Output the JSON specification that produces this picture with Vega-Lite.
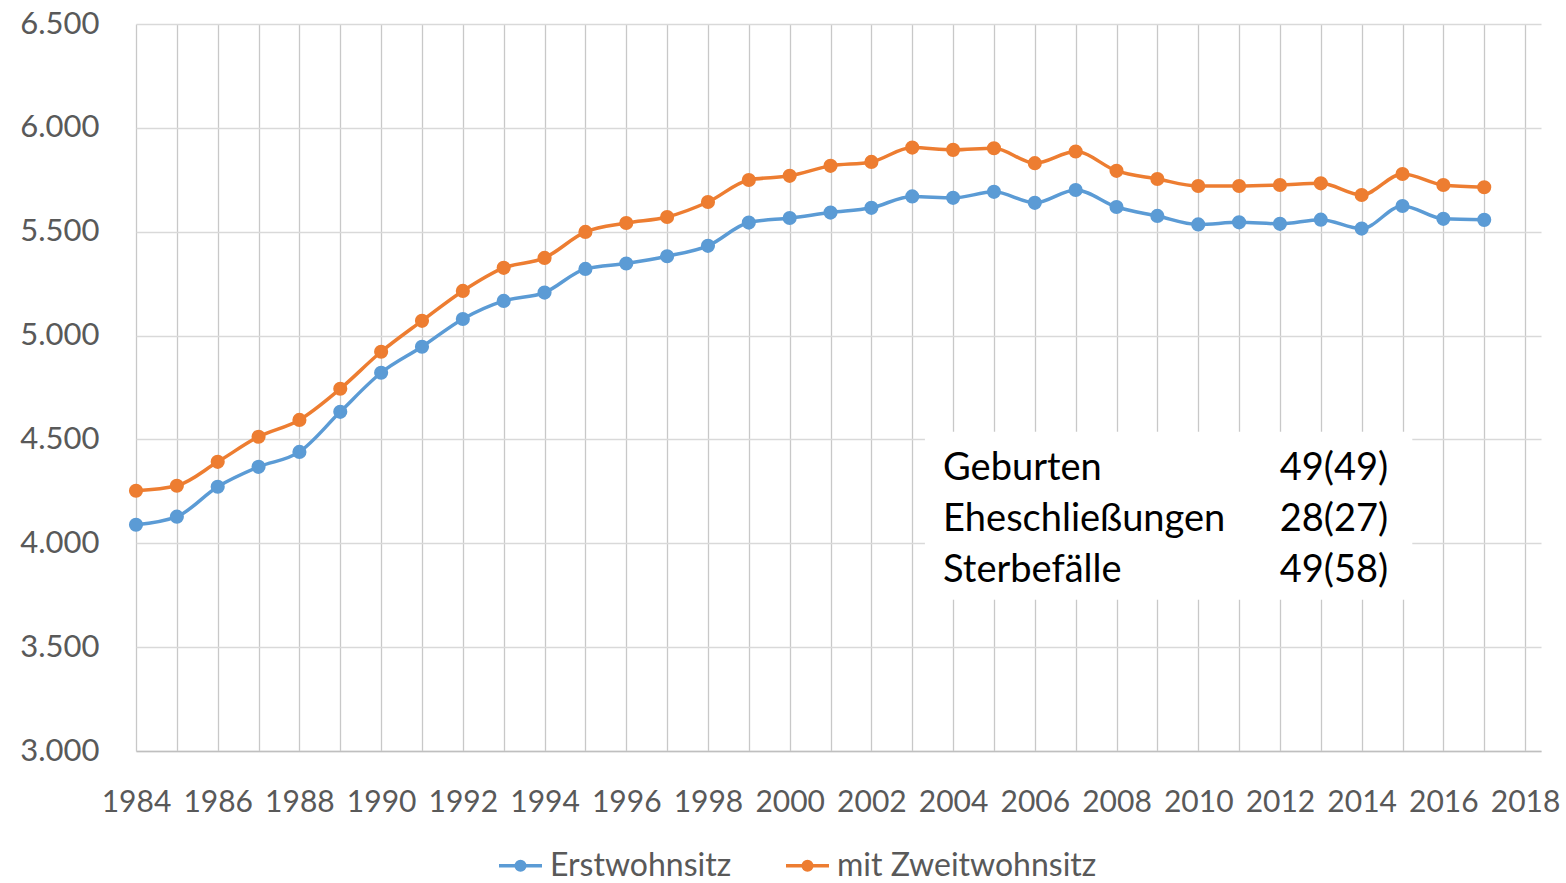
{
  "$schema": "https://vega.github.io/schema/vega-lite/v6.json",
  "width": 1405,
  "height": 727,
  "autosize": {"type": "none"},
  "padding": {"left": 136, "top": 24, "right": 25, "bottom": 132},
  "config": {"view": {"stroke": null}, "font": "Lato"},
  "data": {
    "values": [
      {"Jahr": 1984, "Serie": "Erstwohnsitz", "Einwohner": 4089},
      {"Jahr": 1985, "Serie": "Erstwohnsitz", "Einwohner": 4128},
      {"Jahr": 1986, "Serie": "Erstwohnsitz", "Einwohner": 4272},
      {"Jahr": 1987, "Serie": "Erstwohnsitz", "Einwohner": 4368},
      {"Jahr": 1988, "Serie": "Erstwohnsitz", "Einwohner": 4440},
      {"Jahr": 1989, "Serie": "Erstwohnsitz", "Einwohner": 4633},
      {"Jahr": 1990, "Serie": "Erstwohnsitz", "Einwohner": 4821},
      {"Jahr": 1991, "Serie": "Erstwohnsitz", "Einwohner": 4946},
      {"Jahr": 1992, "Serie": "Erstwohnsitz", "Einwohner": 5080},
      {"Jahr": 1993, "Serie": "Erstwohnsitz", "Einwohner": 5167},
      {"Jahr": 1994, "Serie": "Erstwohnsitz", "Einwohner": 5207},
      {"Jahr": 1995, "Serie": "Erstwohnsitz", "Einwohner": 5321},
      {"Jahr": 1996, "Serie": "Erstwohnsitz", "Einwohner": 5347},
      {"Jahr": 1997, "Serie": "Erstwohnsitz", "Einwohner": 5382},
      {"Jahr": 1998, "Serie": "Erstwohnsitz", "Einwohner": 5432},
      {"Jahr": 1999, "Serie": "Erstwohnsitz", "Einwohner": 5544},
      {"Jahr": 2000, "Serie": "Erstwohnsitz", "Einwohner": 5566},
      {"Jahr": 2001, "Serie": "Erstwohnsitz", "Einwohner": 5592},
      {"Jahr": 2002, "Serie": "Erstwohnsitz", "Einwohner": 5615},
      {"Jahr": 2003, "Serie": "Erstwohnsitz", "Einwohner": 5670},
      {"Jahr": 2004, "Serie": "Erstwohnsitz", "Einwohner": 5663},
      {"Jahr": 2005, "Serie": "Erstwohnsitz", "Einwohner": 5692},
      {"Jahr": 2006, "Serie": "Erstwohnsitz", "Einwohner": 5639},
      {"Jahr": 2007, "Serie": "Erstwohnsitz", "Einwohner": 5701},
      {"Jahr": 2008, "Serie": "Erstwohnsitz", "Einwohner": 5619},
      {"Jahr": 2009, "Serie": "Erstwohnsitz", "Einwohner": 5576},
      {"Jahr": 2010, "Serie": "Erstwohnsitz", "Einwohner": 5535},
      {"Jahr": 2011, "Serie": "Erstwohnsitz", "Einwohner": 5545},
      {"Jahr": 2012, "Serie": "Erstwohnsitz", "Einwohner": 5538},
      {"Jahr": 2013, "Serie": "Erstwohnsitz", "Einwohner": 5558},
      {"Jahr": 2014, "Serie": "Erstwohnsitz", "Einwohner": 5515},
      {"Jahr": 2015, "Serie": "Erstwohnsitz", "Einwohner": 5624},
      {"Jahr": 2016, "Serie": "Erstwohnsitz", "Einwohner": 5562},
      {"Jahr": 2017, "Serie": "Erstwohnsitz", "Einwohner": 5557},
      {"Jahr": 1984, "Serie": "mit Zweitwohnsitz", "Einwohner": 4253},
      {"Jahr": 1985, "Serie": "mit Zweitwohnsitz", "Einwohner": 4277},
      {"Jahr": 1986, "Serie": "mit Zweitwohnsitz", "Einwohner": 4392},
      {"Jahr": 1987, "Serie": "mit Zweitwohnsitz", "Einwohner": 4513},
      {"Jahr": 1988, "Serie": "mit Zweitwohnsitz", "Einwohner": 4594},
      {"Jahr": 1989, "Serie": "mit Zweitwohnsitz", "Einwohner": 4744},
      {"Jahr": 1990, "Serie": "mit Zweitwohnsitz", "Einwohner": 4922},
      {"Jahr": 1991, "Serie": "mit Zweitwohnsitz", "Einwohner": 5071},
      {"Jahr": 1992, "Serie": "mit Zweitwohnsitz", "Einwohner": 5215},
      {"Jahr": 1993, "Serie": "mit Zweitwohnsitz", "Einwohner": 5326},
      {"Jahr": 1994, "Serie": "mit Zweitwohnsitz", "Einwohner": 5374},
      {"Jahr": 1995, "Serie": "mit Zweitwohnsitz", "Einwohner": 5499},
      {"Jahr": 1996, "Serie": "mit Zweitwohnsitz", "Einwohner": 5542},
      {"Jahr": 1997, "Serie": "mit Zweitwohnsitz", "Einwohner": 5571},
      {"Jahr": 1998, "Serie": "mit Zweitwohnsitz", "Einwohner": 5643},
      {"Jahr": 1999, "Serie": "mit Zweitwohnsitz", "Einwohner": 5749},
      {"Jahr": 2000, "Serie": "mit Zweitwohnsitz", "Einwohner": 5769},
      {"Jahr": 2001, "Serie": "mit Zweitwohnsitz", "Einwohner": 5817},
      {"Jahr": 2002, "Serie": "mit Zweitwohnsitz", "Einwohner": 5836},
      {"Jahr": 2003, "Serie": "mit Zweitwohnsitz", "Einwohner": 5905},
      {"Jahr": 2004, "Serie": "mit Zweitwohnsitz", "Einwohner": 5894},
      {"Jahr": 2005, "Serie": "mit Zweitwohnsitz", "Einwohner": 5902},
      {"Jahr": 2006, "Serie": "mit Zweitwohnsitz", "Einwohner": 5830},
      {"Jahr": 2007, "Serie": "mit Zweitwohnsitz", "Einwohner": 5886},
      {"Jahr": 2008, "Serie": "mit Zweitwohnsitz", "Einwohner": 5793},
      {"Jahr": 2009, "Serie": "mit Zweitwohnsitz", "Einwohner": 5754},
      {"Jahr": 2010, "Serie": "mit Zweitwohnsitz", "Einwohner": 5720},
      {"Jahr": 2011, "Serie": "mit Zweitwohnsitz", "Einwohner": 5720},
      {"Jahr": 2012, "Serie": "mit Zweitwohnsitz", "Einwohner": 5725},
      {"Jahr": 2013, "Serie": "mit Zweitwohnsitz", "Einwohner": 5733},
      {"Jahr": 2014, "Serie": "mit Zweitwohnsitz", "Einwohner": 5677},
      {"Jahr": 2015, "Serie": "mit Zweitwohnsitz", "Einwohner": 5778},
      {"Jahr": 2016, "Serie": "mit Zweitwohnsitz", "Einwohner": 5725},
      {"Jahr": 2017, "Serie": "mit Zweitwohnsitz", "Einwohner": 5714}
    ]
  },
  "layer": [
    {
      "mark": {"type": "line", "strokeWidth": 3.5, "interpolate": "monotone", "point": {"filled": true, "size": 200, "opacity": 1}},
      "encoding": {
        "x": {
          "field": "Jahr", "type": "quantitative",
          "scale": {"domain": [1984, 2018.39], "nice": false, "zero": false},
          "axis": {
            "title": null,
            "values": [1984, 1985, 1986, 1987, 1988, 1989, 1990, 1991, 1992, 1993, 1994, 1995, 1996, 1997, 1998, 1999, 2000, 2001, 2002, 2003, 2004, 2005, 2006, 2007, 2008, 2009, 2010, 2011, 2012, 2013, 2014, 2015, 2016, 2017, 2018],
            "format": "d",
            "labelExpr": "datum.value % 2 == 0 ? datum.label : ''",
            "grid": true, "gridColor": "#c8c8c8", "gridWidth": 1.3,
            "ticks": false, "tickSize": 0,
            "domainColor": "#bfbfbf", "domainWidth": 1.3,
            "labelFont": "Lato", "labelFontSize": 30, "labelColor": "#595959",
            "labelPadding": 36, "labelFlush": false, "labelOverlap": false
          }
        },
        "y": {
          "field": "Einwohner", "type": "quantitative",
          "scale": {"domain": [3000, 6500], "nice": false, "zero": false},
          "axis": {
            "title": null,
            "values": [3000, 3500, 4000, 4500, 5000, 5500, 6000, 6500],
            "labelExpr": "replace(format(datum.value, ','), ',', '.')",
            "domain": false, "ticks": false, "tickSize": 0,
            "grid": true, "gridColor": "#d9d9d9", "gridWidth": 1.3,
            "labelFont": "Lato", "labelFontSize": 31, "labelColor": "#595959",
            "labelPadding": 37
          }
        },
        "color": {
          "field": "Serie", "type": "nominal",
          "scale": {"domain": ["Erstwohnsitz", "mit Zweitwohnsitz"], "range": ["#5B9BD5", "#ED7D31"]},
          "legend": {
            "title": null, "orient": "none", "direction": "horizontal",
            "legendX": 361, "legendY": 818, "padding": 0,
            "symbolType": "M-1,0L1,0M-0.2,0A0.2,0.2,0,1,1,0.2,0A0.2,0.2,0,1,1,-0.2,0M-0.09,0A0.09,0.09,0,1,1,0.09,0A0.09,0.09,0,1,1,-0.09,0",
            "symbolSize": 1849, "symbolStrokeWidth": 3.5, "symbolOpacity": 1,
            "labelFont": "Lato", "labelFontSize": 32, "labelColor": "#595959", "labelLimit": 0,
            "labelOffset": 6, "columnPadding": 47
          }
        }
      }
    },
    {
      "data": {"values": [{}]},
      "mark": {"type": "rect", "fill": "white"},
      "encoding": {
        "x": {"datum": 2003.31, "type": "quantitative"},
        "x2": {"datum": 2015.24},
        "y": {"datum": 4537, "type": "quantitative"},
        "y2": {"datum": 3728}
      }
    },
    {
      "data": {"values": [{}]},
      "mark": {"type": "text", "text": ["Geburten", "Eheschließungen", "Sterbefälle"], "align": "left", "baseline": "alphabetic", "font": "Lato", "fontSize": 38, "lineHeight": 51, "color": "#000000"},
      "encoding": {
        "x": {"datum": 2003.755, "type": "quantitative"},
        "y": {"datum": 4306, "type": "quantitative"}
      }
    },
    {
      "data": {"values": [{}]},
      "mark": {"type": "text", "text": ["49(49)", "28(27)", "49(58)"], "align": "right", "baseline": "alphabetic", "font": "Lato", "fontSize": 38, "lineHeight": 51, "color": "#000000"},
      "encoding": {
        "x": {"datum": 2014.65, "type": "quantitative"},
        "y": {"datum": 4306, "type": "quantitative"}
      }
    }
  ]
}
